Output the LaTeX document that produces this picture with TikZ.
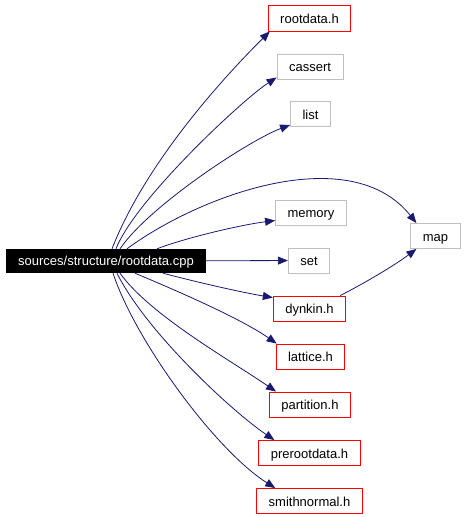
\documentclass[tikz,border=0pt]{standalone}
\usepackage{fontspec}
\setmainfont{Liberation Sans}
\usepackage{xcolor}
\usetikzlibrary{arrows.meta}
\definecolor{DepNavy}{HTML}{191970}
\definecolor{DepGrey}{HTML}{BFBFBF}
\definecolor{DepRed}{HTML}{FF0000}

\begin{document}
\begin{tikzpicture}[x=1pt, y=-1pt, font=\fontsize{13}{15}\selectfont,
  >={Triangle[length=10pt,width=8pt]},
  srcfile/.style={fill=black, text=white, inner xsep=12pt, text height=9pt, text depth=1pt, minimum height=24pt},
  docfile/.style={draw=DepRed, line width=0.9pt, fill=white, inner xsep=12pt, text height=10pt, text depth=0pt, minimum height=25pt},
  sysfile/.style={draw=DepGrey, line width=0.9pt, fill=white, inner xsep=12pt, text height=10pt, text depth=0pt, minimum height=25pt},
  dep/.style={->, line width=0.8pt, DepNavy}]
\useasboundingbox (0,0) rectangle (464,517);

\node[srcfile] (src) at (106,261) {sources/structure/rootdata.cpp};

\node[docfile, minimum height=26pt] (rootdata) at (309.5,18) {rootdata.h};
\node[sysfile] (cassert) at (310,66.5) {cassert};
\node[sysfile] (list) at (310.5,114) {list};
\node[sysfile] (memory) at (311,212.5) {memory};
\node[sysfile] (set) at (309,260.5) {set};
\node[docfile] (dynkin) at (309.5,308.5) {dynkin.h};
\node[sysfile] (map) at (435.5,236) {map};
\node[docfile] (lattice) at (310.5,356.5) {lattice.h};
\node[docfile] (partition) at (310,404.5) {partition.h};
\node[docfile] (prerootdata) at (309.5,453) {prerootdata.h};
\node[docfile] (smithnormal) at (309.5,501) {smithnormal.h};

% upper dependencies
\draw[dep] ([xshift=6pt]src.north) .. controls (147,159) and (230,71) .. ([xshift=2pt]rootdata.south west);
\draw[dep] ([xshift=10pt]src.north) .. controls (135,200) and (242,100) .. ([yshift=2pt]cassert.south west);
\draw[dep] ([xshift=14pt]src.north) .. controls (150,205) and (250,140) .. ([yshift=2pt]list.south west);
\draw[dep] ([xshift=21pt]src.north) .. controls (200,195) and (350,140) .. ([xshift=6pt]map.north west);
\draw[dep] ([xshift=51pt]src.north) .. controls (185,238) and (240,225) .. ([yshift=-8pt]memory.west);
\draw[dep] (src) -- (set);

% lower dependencies
\draw[dep] ([xshift=57pt]src.south) .. controls (200,283) and (245,293) .. ([yshift=-2pt]dynkin.north west);
\draw[dep] ([xshift=29pt]src.south) .. controls (175,290) and (240,318) .. ([xshift=1pt]lattice.north west);
\draw[dep] ([xshift=14pt]src.south) .. controls (150,315) and (230,360) .. ([xshift=7pt]partition.north west);
\draw[dep] ([xshift=11pt]src.south) .. controls (145,330) and (230,410) .. ([xshift=16pt]prerootdata.north west);
\draw[dep] ([xshift=7pt]src.south) .. controls (135,340) and (215,450) .. ([xshift=19pt]smithnormal.north west);

\draw[dep] ([xshift=-6pt]dynkin.north east) .. controls (365,283) and (395,265) .. ([xshift=6pt]map.south west);
\end{tikzpicture}
\end{document}
